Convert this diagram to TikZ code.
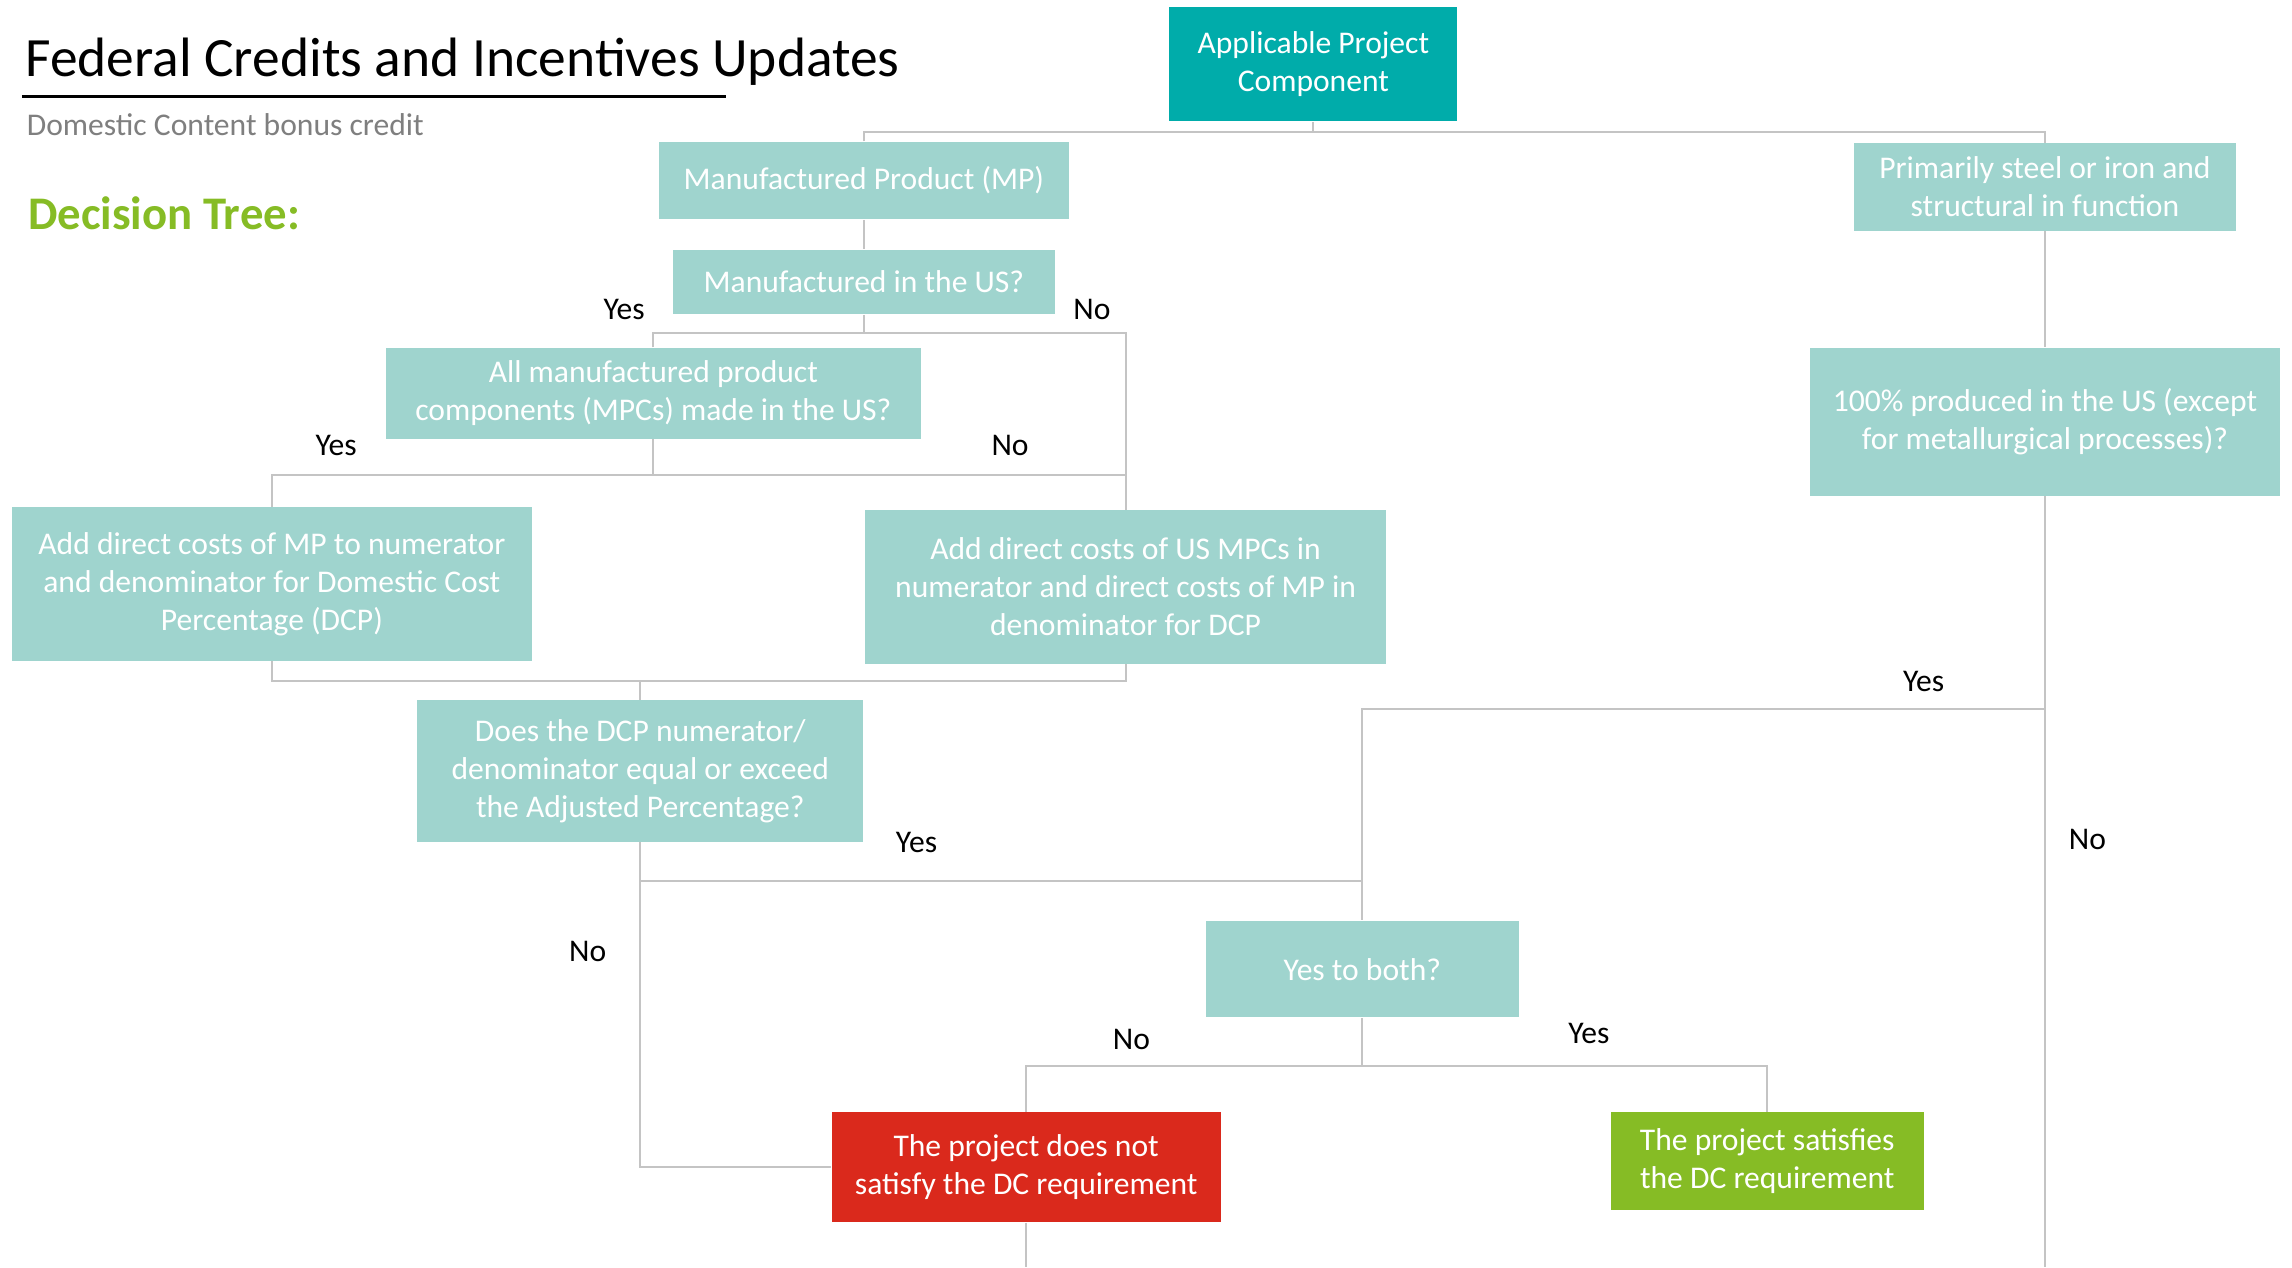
\documentclass[tikz,border=0pt]{standalone}
\usepackage{fontspec}
\setmainfont{Carlito}
\usepackage{xcolor}
\usepackage{tikz}
\usetikzlibrary{positioning}
\definecolor{tealdark}{HTML}{00ACAA}
\definecolor{teallight}{HTML}{9FD4CE}
\definecolor{dcred}{HTML}{DA291C}
\definecolor{dcgreen}{HTML}{86BC25}
\definecolor{linkgray}{HTML}{C4C4C4}
\definecolor{subgray}{HTML}{7F7F7F}
\newcommand{\boxfont}{\fontsize{12.3}{14.8}\selectfont}

\begin{document}
\begin{tikzpicture}[x=0.02cm, y=-0.02cm,
    box/.style={fill=teallight, text=white, align=center, inner sep=0pt, font=\boxfont},
    link/.style={draw=linkgray, line width=0.8pt},
    lbl/.style={font=\boxfont, inner sep=0pt}]
  \useasboundingbox[fill=white] (0,0) rectangle (1568,867);

  % heading
  \node[anchor=base west, inner sep=0pt, font=\fontsize{21.6}{26}\selectfont] (title) at (17,52) {Federal Credits and Incentives Updates};
  \draw[line width=1.1pt] (15,66) -- (497,66);
  \node[anchor=base west, inner sep=0pt, text=subgray, font=\boxfont] (subtitle) at (18,93) {Domestic Content bonus credit};
  \node[anchor=base west, inner sep=0pt, text=dcgreen, font=\fontsize{18.2}{22}\selectfont\bfseries] (dtree) at (19,157) {Decision Tree:};

  % boxes
  \node[box, fill=tealdark, minimum width=3.94cm, minimum height=1.56cm] (apc) at (898.5,44) {Applicable Project\\Component};
  \node[box, minimum width=5.6cm, minimum height=1.06cm] (mp) at (591,123.5) {Manufactured Product (MP)};
  \node[box, minimum width=5.24cm, minimum height=1.2cm] (steel) at (1399,128) {Primarily steel or iron and\\structural in function};
  \node[box, minimum width=5.22cm, minimum height=0.88cm] (mius) at (591,193) {Manufactured in the US?};
  \node[box, minimum width=7.32cm, minimum height=1.24cm] (mpcs) at (447,269) {All manufactured product\\components (MPCs) made in the US?};
  \node[box, minimum width=6.42cm, minimum height=2.02cm] (steelus) at (1399,288.5) {100\% produced in the US (except\\for metallurgical processes)?};
  \node[box, minimum width=7.12cm, minimum height=2.1cm] (addmp) at (186,399.5) {Add direct costs of MP to numerator\\and denominator for Domestic Cost\\Percentage (DCP)};
  \node[box, minimum width=7.12cm, minimum height=2.1cm] (addmpc) at (770,401.5) {Add direct costs of US MPCs in\\numerator and direct costs of MP in\\denominator for DCP};
  \node[box, minimum width=6.1cm, minimum height=1.94cm] (dcp) at (438,527.5) {Does the DCP numerator/\\denominator equal or exceed\\the Adjusted Percentage?};
  \node[box, minimum width=4.28cm, minimum height=1.32cm] (both) at (932,663) {Yes to both?};
  \node[box, fill=dcred, minimum width=5.32cm, minimum height=1.5cm] (fail) at (702,798.5) {The project does not\\satisfy the DC requirement};
  \node[box, fill=dcgreen, minimum width=4.28cm, minimum height=1.34cm] (pass) at (1209,794.5) {The project satisfies\\the DC requirement};

  % junctions
  \coordinate (j1) at (898.5,90);
  \coordinate (j2) at (591,228);
  \coordinate (j3) at (770,325);
  \coordinate (j4) at (447,325);
  \coordinate (j5) at (438,466);
  \coordinate (j6) at (438,603);
  \coordinate (j7) at (1399,485);
  \coordinate (j8) at (932,729);
  \coordinate (e1) at (702,867);
  \coordinate (e2) at (1399,867);

  % connectors
  \draw[link] (apc) -- (j1);
  \draw[link] (mp) |- (j1) -| (steel);
  \draw[link] (mp) -- (mius);
  \draw[link] (mius) -- (j2);
  \draw[link] (mpcs) |- (j2) -| (j3);
  \draw[link] (mpcs) -- (j4);
  \draw[link] (addmp) |- (j4) -| (addmpc);
  \draw[link] (addmp) |- (j5) -| (addmpc);
  \draw[link] (j5) -- (dcp);
  \draw[link] (dcp) |- (fail);
  \draw[link] (j6) -| (both);
  \draw[link] (steel) -- (steelus);
  \draw[link] (steelus) -- (e2);
  \draw[link] (j7) -| (both);
  \draw[link] (both) -- (j8);
  \draw[link] (fail) |- (j8) -| (pass);
  \draw[link] (fail) -- (e1);

  % branch labels
  \node[lbl] (l1) at (427,212) {Yes};
  \node[lbl] (l2) at (747,212) {No};
  \node[lbl] (l3) at (230,305) {Yes};
  \node[lbl] (l4) at (691,305) {No};
  \node[lbl] (l5) at (1316,466) {Yes};
  \node[lbl] (l6) at (627,576) {Yes};
  \node[lbl] (l7) at (402,651) {No};
  \node[lbl] (l8) at (1428,574) {No};
  \node[lbl] (l9) at (774,711) {No};
  \node[lbl] (l10) at (1087,707) {Yes};
\end{tikzpicture}
\end{document}
